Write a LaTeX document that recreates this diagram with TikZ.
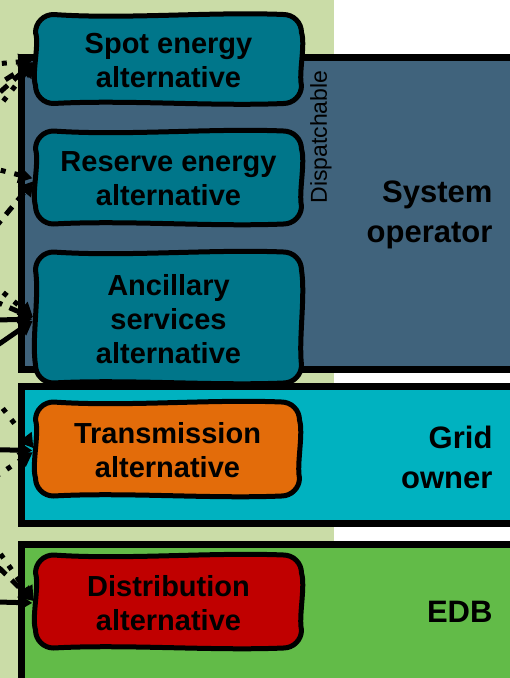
\documentclass[tikz,border=0pt]{standalone}
\usepackage{fontspec}
\setmainfont{Liberation Sans}
\usetikzlibrary{arrows.meta,positioning}

\definecolor{panel}{HTML}{CADCA7}
\definecolor{sysop}{HTML}{40637C}
\definecolor{gridown}{HTML}{00B2C0}
\definecolor{edbgreen}{HTML}{62BB48}
\definecolor{altteal}{HTML}{00768A}
\definecolor{altorange}{HTML}{E36C0A}
\definecolor{altred}{HTML}{C00000}

\tikzset{
  layer/.style={draw, line width=7pt},
  altline/.style={draw, line width=5pt, line join=round},
  alt/.style={align=center, inner sep=0pt, font=\fontsize{29}{34}\selectfont\bfseries},
  owner/.style={anchor=east, align=right, font=\fontsize{31}{40}\selectfont\bfseries},
  feed/.style={line width=5pt, shorten >=3pt, -{Triangle[length=14pt,width=16pt]}},
  flow/.style={feed, dash pattern=on 10pt off 8pt},
  dotflow/.style={feed, dash pattern=on 5pt off 9pt}
}

% hand-drawn box: name, cx, cy, half width, half height, fill, text
\newcommand\altbox[7]{%
  \pgfmathsetmacro\boxL{#2-#4}\pgfmathsetmacro\boxR{#2+#4}
  \pgfmathsetmacro\boxT{#3-#5}\pgfmathsetmacro\boxB{#3+#5}
  \pgfmathsetmacro\boxWa{#4/3}\pgfmathsetmacro\boxWb{#5/3}
  \draw[altline, fill=#6] (\boxL+18,\boxT)
    .. controls (#2-\boxWa,\boxT+5) and (#2+\boxWa,\boxT-3) .. (\boxR-18,\boxT)
    arc[start angle=-90, end angle=0, radius=18]
    .. controls (\boxR+4,#3-\boxWb) and (\boxR-3,#3+\boxWb) .. (\boxR,\boxB-18)
    arc[start angle=0, end angle=90, radius=18]
    .. controls (#2+\boxWa,\boxB+3) and (#2-\boxWa,\boxB-4) .. (\boxL+18,\boxB)
    arc[start angle=90, end angle=180, radius=18]
    .. controls (\boxL-4,#3+\boxWb) and (\boxL+4,#3-\boxWb) .. (\boxL,\boxT+18)
    arc[start angle=180, end angle=270, radius=18] -- cycle;
  \node[alt, minimum width=2*#4, minimum height=2*#5] (#1) at (#2,#3+1.5) {#7};
}

\begin{document}
\begin{tikzpicture}[x=1pt,y=-1pt]
  \useasboundingbox (0,0) rectangle (510,678);
  \clip (0,0) rectangle (510,678);
  \fill[panel] (0,0) rectangle (334,678);

  % layers
  \draw[layer, fill=sysop] (21.5,57.5) rectangle (540,369.5);
  \draw[layer, fill=gridown] (21.5,386.5) rectangle (540,523);
  \draw[layer, fill=edbgreen] (21.5,544.5) rectangle (540,700);
  \node[rotate=90, font=\fontsize{23}{26}\selectfont] (disp) at (321,137) {Dispatchable};
  \node[owner] (so) at (496,215) {System\\operator};
  \node[owner] (go) at (496,457) {Grid\\owner};
  \node[owner] (edb) at (496,612) {EDB};

  % alternatives
  \altbox{spot}{168.5}{59}{133}{44.5}{altteal}{Spot energy\\alternative}
  \altbox{reserve}{168.5}{177.5}{133}{46.5}{altteal}{Reserve energy\\alternative}
  \altbox{ancil}{168.5}{317.5}{133}{65.5}{altteal}{Ancillary\\services\\alternative}
  \altbox{trans}{167.5}{449}{132}{47}{altorange}{Transmission\\alternative}
  \altbox{distr}{168.5}{601.5}{133}{46.5}{altred}{Distribution\\alternative}

  % incoming links from the left
  \coordinate (sp1) at (-40,67);
  \coordinate (sp2) at (-40,109);
  \coordinate (sp3) at (-40,128);
  \coordinate (sp4) at (-40,156);
  \draw[dotflow] (sp1) -- (spot.west);
  \draw[flow] (sp2) -- (spot.west);
  \draw[flow] (sp3) -- (spot.west);
  \draw[dotflow] (sp4) -- (spot.west);

  \coordinate (re1) at (-40,160);
  \coordinate (re2) at (-40,270);
  \draw[dotflow] (re1) -- (reserve.west);
  \draw[flow] (re2) -- (reserve.west);

  \coordinate (an1) at (-40,257);
  \coordinate (an2) at (-40,286);
  \coordinate (an3) at (-40,321);
  \coordinate (an4) at (-40,371);
  \draw[dotflow] (an1) -- (ancil.west);
  \draw[flow] (an2) -- (ancil.west);
  \draw[feed] (an3) -- (ancil.west);
  \draw[feed] (an4) -- (ancil.west);

  \coordinate (tr1) at (-40,353);
  \coordinate (tr2) at (-40,449);
  \coordinate (tr3) at (-40,500);
  \draw[dotflow] (tr1) -- (trans.west);
  \draw[feed] (tr2) -- (trans.west);
  \draw[dotflow] (tr3) -- (trans.west);

  \coordinate (di1) at (-40,497);
  \coordinate (di2) at (-40,530);
  \coordinate (di3) at (-40,601);
  \draw[dotflow] (di1) -- (distr.west);
  \draw[flow] (di2) -- (distr.west);
  \draw[feed] (di3) -- (distr.west);
\end{tikzpicture}
\end{document}
